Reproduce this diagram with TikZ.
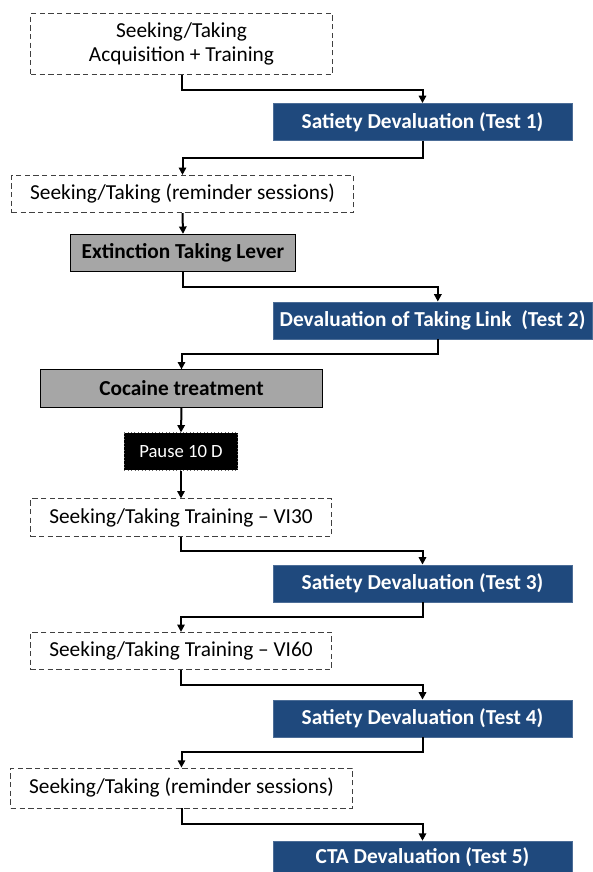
\documentclass[tikz,border=0pt]{standalone}
\usepackage{fontspec}
\setmainfont{Carlito}
\usepackage{xcolor}
\usepackage{tikz}
\usetikzlibrary{arrows.meta}

\definecolor{testblue}{RGB}{31,73,125}
\definecolor{boxgray}{RGB}{166,166,166}

\tikzset{
  phase/.style={draw=black!75, dashed, dash pattern=on 4pt off 2.5pt, line width=0.6pt, fill=white,
    minimum height=28pt, inner sep=0pt, align=center, font=\fontsize{16}{18.5}\selectfont},
  testbox/.style={draw=testblue!80!white, fill=testblue, text=white, line width=0.4pt,
    minimum height=28pt, inner sep=0pt, font=\fontsize{16}{18}\selectfont\bfseries},
  treat/.style={draw=black, fill=boxgray, line width=0.7pt,
    minimum height=28pt, inner sep=0pt, font=\fontsize{16}{18}\selectfont\bfseries},
  pausebox/.style={draw=black!60, dotted, fill=black, text=white, line width=0.6pt,
    minimum height=28pt, inner sep=0pt, font=\fontsize{14}{16}\selectfont},
  link/.style={draw=black, line width=1.5pt, -{Triangle[length=5.5pt,width=5.5pt]}},
}

\begin{document}
\begin{tikzpicture}[x=0.75pt,y=0.75pt,yscale=-1,xscale=1]
\useasboundingbox (0,0) rectangle (593,872);

        % phases and tests
        \node [phase, minimum width=226pt, minimum height=46pt] (acq) at (181.5,44) {Seeking/Taking\\Acquisition + Training};
        \node [testbox, minimum width=224pt] (test1) at (422.5,122) {Satiety Devaluation (Test 1)};
        \node [phase, minimum width=256pt] (remind1) at (182.5,194) {Seeking/Taking (reminder sessions)};
        \node [treat, minimum width=169pt] (ext) at (183,253) {Extinction Taking Lever};
        \node [testbox, minimum width=239pt] (test2) at (432.5,320.5) {Devaluation of Taking Link\ \ (Test 2)};
        \node [treat, minimum width=212pt] (cocaine) at (181.5,388.5) {Cocaine treatment};
        \node [pausebox, minimum width=85pt] (pause) at (181,451.5) {Pause 10 D};
        \node [phase, minimum width=226pt] (vi30) at (181,517.5) {Seeking/Taking Training -- VI30};
        \node [testbox, minimum width=224pt] (test3) at (422.5,583.5) {Satiety Devaluation (Test 3)};
        \node [phase, minimum width=226pt] (vi60) at (181,651) {Seeking/Taking Training -- VI60};
        \node [testbox, minimum width=224pt] (test4) at (422.5,718.5) {Satiety Devaluation (Test 4)};
        \node [phase, minimum width=256pt, minimum height=30pt] (remind2) at (181.5,788) {Seeking/Taking (reminder sessions)};
        \node [testbox, minimum width=224pt, minimum height=24pt] (test5) at (422.5,857) {CTA Devaluation (Test 5)};

        % connectors
        \draw [link] (acq.south) -- ++(0,15) -| (test1.north);
        \draw [link] (test1.south) -- ++(0,17) -| (remind1.north);
        \draw [link] (remind1.south) -- (ext.north);
        \draw [link] (ext.south) -- ++(0,15) -| ([xshift=4pt]test2.north);
        \draw [link] ([xshift=4pt]test2.south) -- ++(0,15) -| (cocaine.north);
        \draw [link] (cocaine.south) -- (pause.north);
        \draw [link] (pause.south) -- (vi30.north);
        \draw [link] (vi30.south) -- ++(0,14) -| (test3.north);
        \draw [link] (test3.south) -- ++(0,15) -| (vi60.north);
        \draw [link] (vi60.south) -- ++(0,15) -| (test4.north);
        \draw [link] (test4.south) -- ++(0,15) -| (remind2.north);
        \draw [link] (remind2.south) -- ++(0,16) -| (test5.north);
\end{tikzpicture}
\end{document}
